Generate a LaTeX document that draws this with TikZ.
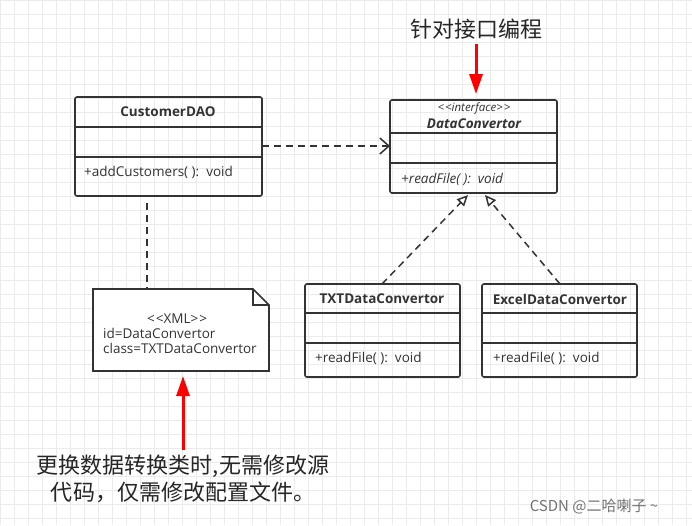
\documentclass[tikz,border=0pt]{standalone}
\usepackage{fontspec}
\setmainfont{Open Sans}
\newfontfamily\cjk{Noto Sans CJK SC}
\usetikzlibrary{arrows.meta}
\newcommand{\stl}{\textless\kern1pt\textless}
\newcommand{\str}{\textgreater\kern1pt\textgreater}
\begin{document}
\begin{tikzpicture}[x=1pt,y=-1pt,
 box/.style={draw=black!80,line width=1.6pt,rounded corners=2pt},
 sep/.style={draw=black!80,line width=1.3pt},
 lbl/.style={font=\fontsize{13.5}{15}\selectfont,text=black!80,inner sep=0},
 bl/.style={lbl,font=\bfseries\fontsize{13.5}{15}\selectfont},
 dsh/.style={draw=black!80,line width=1.5pt,dash pattern=on 7pt off 5pt},
 red/.style={draw=red,line width=3pt,-{Triangle[length=20pt,width=13pt]}},
 big/.style={font=\cjk\fontsize{22}{27}\selectfont,text=black!85,inner sep=0,align=center}]
\useasboundingbox (0,0) rectangle (692,525);
\fill[white] (0,0) rectangle (692,525);
\draw[black!8,line width=0.5pt,step=14pt] (0,0) grid (692,525);
% CustomerDAO
\draw[box] (75,97) rectangle (262,196);
\draw[sep] (75,127) -- (262,127) (75,157) -- (262,157);
\node[bl] (cd) at (168,112) {CustomerDAO};
\node[lbl,anchor=west] (cdm) at (84,172) {+addCustomers( ):\ \ void};
\coordinate (cdr) at (262,146);
\coordinate (cdb) at (147,203);
% DataConvertor
\draw[box] (390,100) rectangle (557,193);
\draw[sep] (390,133) -- (557,133) (390,163) -- (557,163);
\node[lbl,font=\itshape\fontsize{11.5}{12}\selectfont] (st) at (474,108) {\stl interface\str};
\node[lbl,font=\bfseries\itshape\fontsize{13.5}{15}\selectfont] (dc) at (474,124) {DataConvertor};
\node[lbl,anchor=west,font=\itshape\fontsize{13.5}{15}\selectfont] (dcm) at (401,179) {+readFile( ):\ \ void};
\coordinate (dcl) at (390,146);
\coordinate (dcb1) at (468,195);
\coordinate (dcb2) at (485,195);
% TXT
\draw[box] (305,284) rectangle (460,377);
\draw[sep] (305,313) -- (460,313) (305,343) -- (460,343);
\node[bl] (tx) at (382,299) {TXTDataConvertor};
\node[lbl,anchor=west] (txm) at (315,358) {+readFile( ):\ \ void};
\coordinate (txt) at (382,284);
% Excel
\draw[box] (482,284) rectangle (637,377);
\draw[sep] (482,313) -- (637,313) (482,343) -- (637,343);
\node[bl] (ex) at (560,299) {ExcelDataConvertor};
\node[lbl,anchor=west] (exm) at (493,358) {+readFile( ):\ \ void};
\coordinate (ext) at (560,284);
% note
\draw[draw=black!80,line width=1.6pt,fill=white] (93,289) -- (253,289) -- (269,305) -- (269,371) -- (93,371) -- cycle;
\draw[draw=black!80,line width=1.3pt] (253,289) -- (253,305) -- (269,305);
\node[lbl,align=left,anchor=north west] (nt) at (103,314) {\hspace*{44pt}\stl XML\str\\id=DataConvertor\\class=TXTDataConvertor};
\coordinate (ntt) at (147,289);
% connectors
\draw[dsh,-{Straight Barb[length=9pt,width=16pt]}] (cdr) -- (dcl);
\draw[dsh] (cdb) -- (ntt);
\draw[dsh,-{Triangle[open,length=11pt,width=10pt,fill=white]}] (txt) -- (dcb1);
\draw[dsh,-{Triangle[open,length=11pt,width=10pt,fill=white]}] (ext) -- (dcb2);
% red
\node[big] (t1) at (476,29) {针对接口编程};
\coordinate (r1) at (476,94);
\draw[red] (476,44) -- (r1);
\node[big] (t2) at (183,479) {更换数据转换类时,无需修改源\\代码，仅需修改配置文件。};
\coordinate (r2) at (183,376);
\draw[red] (183,450) -- (r2);
\node[font=\cjk\fontsize{15}{17}\selectfont,text=black!55,inner sep=0] (wm) at (594,507) {CSDN @二哈喇子 \textasciitilde};
\end{tikzpicture}
\end{document}
